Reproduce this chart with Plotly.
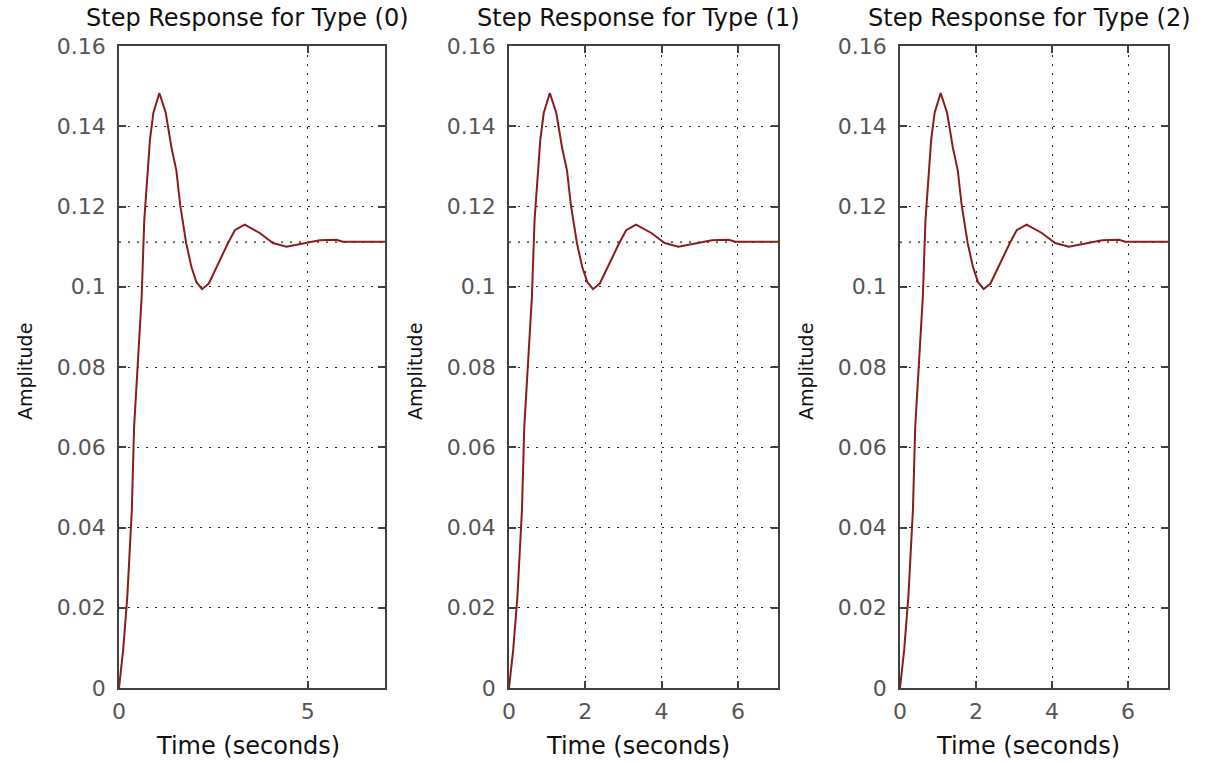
import plotly.graph_objects as go

# ---- data ----
time_s = [0, 0.03, 0.11, 0.22, 0.34, 0.40, 0.47, 0.56, 0.60, 0.67, 0.73, 0.82, 0.91,
          1.07, 1.24, 1.39, 1.52, 1.62, 1.78, 1.92, 2.05, 2.20, 2.38, 2.58, 2.89,
          3.07, 3.33, 3.73, 4.08, 4.44, 4.97, 5.32, 5.76, 5.93, 7.05]
amplitude = [0, 0.0027, 0.0095, 0.0227, 0.0444, 0.0650, 0.0768, 0.0892, 0.0974,
             0.1166, 0.1249, 0.1366, 0.1433, 0.1483, 0.1433, 0.1347, 0.1290, 0.1205,
             0.1109, 0.1049, 0.1012, 0.0994, 0.1008, 0.1049, 0.1109, 0.1141, 0.1155,
             0.1134, 0.1109, 0.1100, 0.1109, 0.1116, 0.1117, 0.1112, 0.1112]
steady_state = 0.1111
t_end = 7.05
titles = ["Step Response for Type (0)", "Step Response for Type (1)", "Step Response for Type (2)"]
x_ticks = [[0, 5], [0, 2, 4, 6], [0, 2, 4, 6]]
y_ticks = [0, 0.02, 0.04, 0.06, 0.08, 0.1, 0.12, 0.14, 0.16]
y_tick_text = ["0", "0.02", "0.04", "0.06", "0.08", "0.1", "0.12", "0.14", "0.16"]

W, H = 1211, 763
lefts = [119, 509, 900]
rights = [385, 778, 1168]
top_px, bot_px = 46, 688
title_cx = [247, 638, 1029]
xlabel_cx = [248, 638, 1028]
ylabel_cx = [25, 415, 806]

FONT = "DejaVu Sans"
fig = go.Figure()

for i in range(3):
    sfx = "" if i == 0 else str(i + 1)
    xa, ya = "x" + sfx, "y" + sfx
    fig.add_trace(go.Scatter(x=[0, t_end], y=[steady_state, steady_state], mode="lines",
                             line=dict(color="#222222", width=1.2, dash="2px,7px"),
                             xaxis=xa, yaxis=ya, showlegend=False, hoverinfo="skip"))
    fig.add_trace(go.Scatter(x=time_s, y=amplitude, mode="lines",
                             line=dict(color="#8a1c1c", width=2, shape="linear"),
                             xaxis=xa, yaxis=ya, showlegend=False))
    common = dict(showline=True, linecolor="#404040", linewidth=1.5, mirror="ticks",
                  ticks="inside", ticklen=7, tickcolor="#404040", tickwidth=1.5,
                  showgrid=True, gridcolor="#222222", griddash="2px,7px", gridwidth=1.2,
                  zeroline=False, automargin=False,
                  tickfont=dict(family=FONT, size=22, color="#555555"))
    fig.layout["xaxis" + sfx] = dict(
        common, domain=[lefts[i] / W, rights[i] / W], range=[0, t_end],
        tickvals=x_ticks[i], ticktext=[str(v) for v in x_ticks[i]],
        anchor=ya, ticklabelstandoff=3)
    fig.layout["yaxis" + sfx] = dict(
        common, domain=[1 - bot_px / H, 1 - top_px / H], range=[0, 0.16],
        tickvals=y_ticks, ticktext=y_tick_text, anchor=xa, ticklabelstandoff=7)
    fig.add_annotation(text=titles[i], x=title_cx[i] / W, y=1 - 18 / H, xref="paper", yref="paper",
                       showarrow=False, xanchor="center", yanchor="middle",
                       font=dict(family=FONT, size=24, color="#111111"))
    fig.add_annotation(text="Time (seconds)", x=xlabel_cx[i] / W, y=1 - 746 / H, xref="paper", yref="paper",
                       showarrow=False, xanchor="center", yanchor="middle",
                       font=dict(family=FONT, size=24, color="#111111"))
    fig.add_annotation(text="Amplitude", x=ylabel_cx[i] / W, y=1 - 372 / H, xref="paper", yref="paper",
                       showarrow=False, xanchor="center", yanchor="middle", textangle=-90,
                       font=dict(family=FONT, size=19, color="#111111"))

fig.update_layout(width=W, height=H, autosize=False,
                  margin=dict(l=0, r=0, t=0, b=0, pad=0, autoexpand=False),
                  paper_bgcolor="white", plot_bgcolor="white")
fig.write_html("out.html", config={"displayModeBar": False},
               post_script="document.body.style.margin='0';document.body.style.padding='0';"
                           "document.body.style.overflow='hidden';"
                           "document.documentElement.style.overflow='hidden';")
